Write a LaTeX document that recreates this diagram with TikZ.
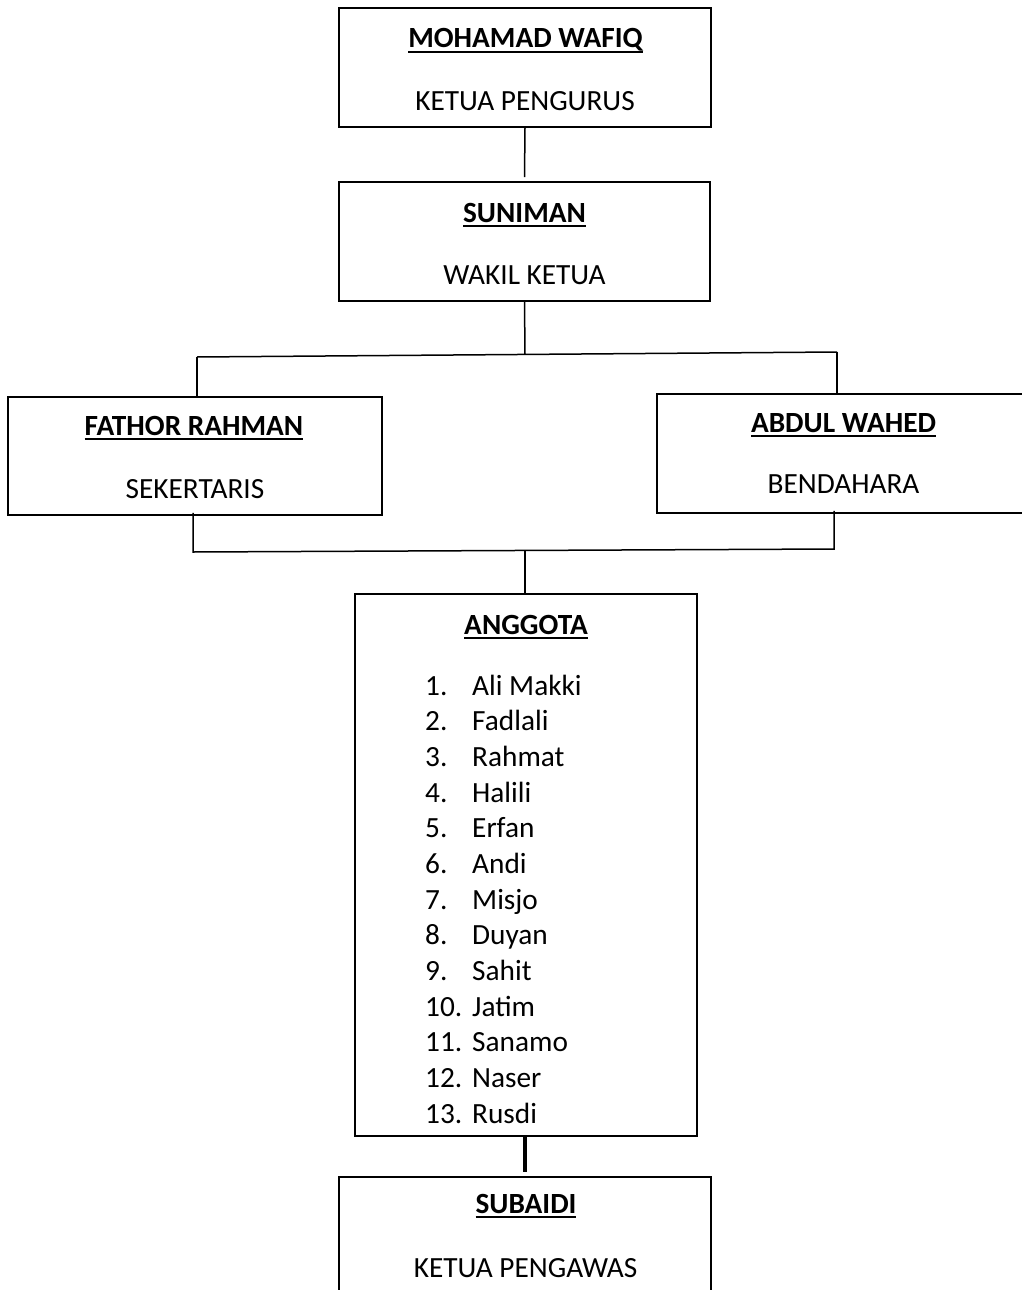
\documentclass[tikz,border=0pt]{standalone}
\usepackage{fontspec}
\setmainfont{Carlito}
\newcommand\fsz{\fontsize{29.3pt}{35pt}\selectfont}
\newcommand\myul[1]{\leavevmode\setbox0\hbox{#1}\rlap{\rule[-5pt]{\wd0}{2pt}}\box0}
\tikzset{
  box/.style={draw, line width=1.6pt, rectangle, inner sep=0pt},
  title/.style={font=\fsz\bfseries, anchor=base, inner sep=0pt},
  role/.style={font=\fsz, anchor=base, inner sep=0pt},
  item/.style={font=\fsz, anchor=base west, inner sep=0pt},
  link/.style={line width=1.5pt},
}
\begin{document}
\begin{tikzpicture}[x=1pt, y=-1pt]
\useasboundingbox (0,0) rectangle (1021,1290);
% boxes
\node[box, minimum width=372pt, minimum height=119pt] (b1) at (525,67.5) {};
\node[box, minimum width=371pt, minimum height=119pt] (b2) at (524.5,241.5) {};
\node[box, minimum width=374pt, minimum height=118pt] (b3) at (195,456) {};
\node[box, minimum width=373pt, minimum height=119pt] (b4) at (843.5,453.5) {};
\node[box, minimum width=342pt, minimum height=542pt] (b5) at (526,865) {};
\node[box, minimum width=372pt, minimum height=123pt] (b6) at (525,1238.5) {};
% texts
\node[title] (t1) at (525.5,48) {\myul{MOHAMAD WAFIQ}};
\node[role]  (r1) at (525,110) {KETUA PENGURUS};
\node[title] (t2) at (524.5,222) {\myul{SUNIMAN}};
\node[role]  (r2) at (524.5,284) {WAKIL KETUA};
\node[title] (t3) at (194,435) {\myul{FATHOR RAHMAN}};
\node[role]  (r3) at (195,498) {SEKERTARIS};
\node[title] (t4) at (843.5,432) {\myul{ABDUL WAHED}};
\node[role]  (r4) at (843.5,493) {BENDAHARA};
\node[title] (t5) at (526,634) {\myul{ANGGOTA}};
\node[title] (t6) at (526,1213) {\myul{SUBAIDI}};
\node[role]  (r6) at (525.5,1277) {KETUA PENGAWAS};
% list
\foreach \i/\nm in {1/Ali Makki,2/Fadlali,3/Rahmat,4/Halili,5/Erfan,6/Andi,7/Misjo,8/Duyan,9/Sahit,10/Jatim,11/Sanamo,12/Naser,13/Rusdi}{
  \node[item] (n\i) at (425,{695+35.67*(\i-1)}) {\i.};
  \node[item] (m\i) at (472,{695+35.67*(\i-1)}) {\nm};
}
% connectors
\coordinate (j1) at (525,354.5);
\coordinate (jl) at (197,357);
\coordinate (jr) at (837,352);
\coordinate (kl) at (193,552);
\coordinate (kr) at (834,549);
\coordinate (k)  at (525,550.5);
\draw[link] (b1.south) -- ([yshift=4pt]b2.north);
\draw[link] (b2.south) -- (j1);
\draw[link] (jl) -- (jr);
\draw[link] (jl) -- (jl |- b3.north);
\draw[link] (jr) -- (jr |- b4.north);
\draw[link] ([yshift=3pt]kl |- b3.south) -- (kl) -- (kr) -- ([yshift=3pt]kr |- b4.south);
\draw[link, line width=2.2pt] (k) -- (k |- b5.north);
\draw[link, line width=3.5pt] (b6.north |- b5.south) -- ([yshift=4pt]b6.north);
\end{tikzpicture}
\end{document}
